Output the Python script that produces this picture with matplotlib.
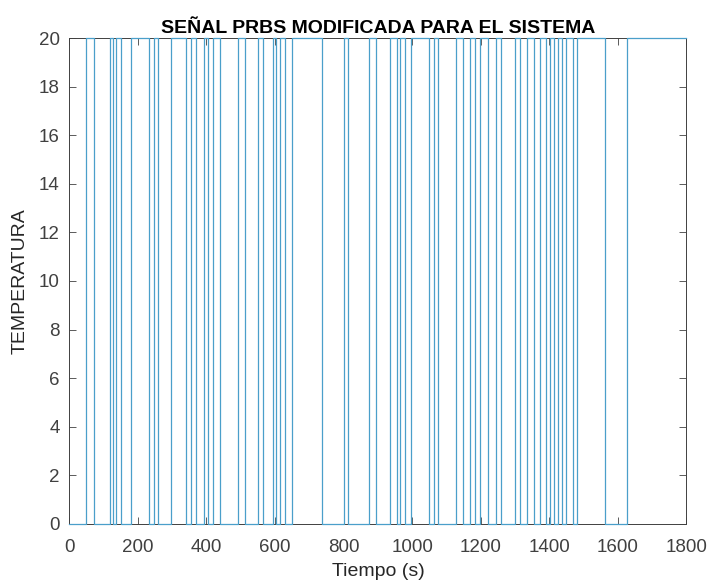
import numpy as np
import matplotlib
matplotlib.use("Agg")
import matplotlib.pyplot as plt

plt.rcParams.update({"font.family": ["Liberation Sans", "DejaVu Sans"], "font.size": 13})

# switching instants of the PRBS (s)
t_switch = [50, 73, 120, 128, 137, 150, 181, 233, 248, 260, 297, 341, 356, 370, 394, 405,
            420, 440, 493, 513, 551, 566, 595, 603, 615, 630, 650, 738, 802, 813, 875, 895,
            936, 956, 965, 980, 997, 1050, 1064, 1076, 1128, 1149, 1169, 1184, 1198, 1222,
            1245, 1259, 1300, 1315, 1335, 1356, 1373, 1391, 1402, 1414, 1426, 1437, 1449,
            1470, 1480, 1563, 1627]
t_end = 1800
levels = [0, 20]

# build the stair signal
t = [0] + t_switch + [t_end]
y = [levels[i % 2] for i in range(len(t_switch) + 1)]
y = y + [y[-1]]

fig = plt.figure(figsize=(7.11, 5.86), dpi=100)
ax = fig.add_axes([0.0975, 0.106, 0.868, 0.829])
ax.step(t, y, where="post", color="#4a9fca", lw=0.9, clip_on=False, zorder=3)

ax.set_xlim(0, 1800)
ax.set_ylim(0, 20)
ax.set_xticks(np.arange(0, 1801, 200))
ax.set_yticks(np.arange(0, 21, 2))
ax.tick_params(direction="in", top=True, right=True, length=5, width=0.6,
               labelsize=13.5, colors="#404040")
ax.tick_params(axis="x", pad=11)
ax.tick_params(axis="y", pad=7)
for s in ax.spines.values():
    s.set_color("#404040")
    s.set_linewidth(0.7)
ax.set_xlabel("Tiempo (s)", fontsize=14, color="#262626", labelpad=5)
ax.set_ylabel("TEMPERATURA", fontsize=14, color="#262626", labelpad=7)
ax.set_title("SEÑAL PRBS MODIFICADA PARA EL SISTEMA", fontsize=14, fontweight="bold", pad=4)

fig.savefig("out.png", dpi=100)
